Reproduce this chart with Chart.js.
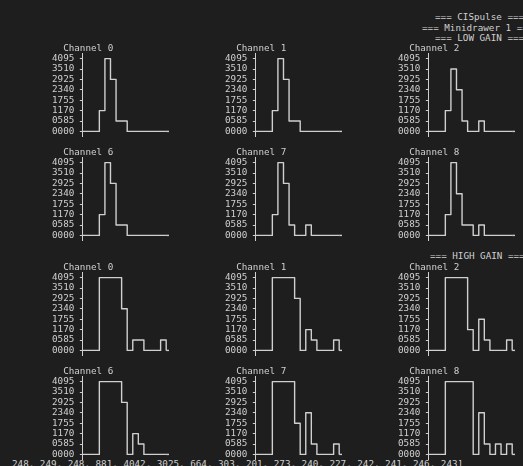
<!DOCTYPE html>
<html>
<head>
<meta charset="utf-8">
<script src="https://cdn.jsdelivr.net/npm/chart.js@4.4.0/dist/chart.umd.min.js"></script>
<style>
  html, body { margin: 0; padding: 0; background: #1e1e1e; }
  #screen {
    position: relative; width: 523px; height: 466px; overflow: hidden;
    background: #1e1e1e; color: #d0d0d0;
    font-family: 'DejaVu Sans Mono', monospace; font-size: 9.25px;
  }
  .txt { position: absolute; white-space: pre; line-height: 10.4px; height: 10.4px; }
  .panel { position: absolute; }
  .panel canvas { display: block; }
</style>
</head>
<body>
<div id="screen"></div>
<script>
// ---- pulse samples per channel (ADC counts, 16 samples each) ----
const sampleIdx = [0, 1, 2, 3, 4, 5, 6, 7, 8, 9, 10, 11, 12, 13, 14, 15];
const yTicks = [0, 585, 1170, 1755, 2340, 2925, 3510, 4095];

const lgCh0 = [0, 0, 0, 1170, 4095, 2925, 585, 585, 0, 0, 0, 0, 0, 0, 0, 0];
const lgCh1 = [0, 0, 0, 1170, 4095, 2925, 585, 585, 0, 0, 0, 0, 0, 0, 0, 0];
const lgCh2 = [0, 0, 0, 1170, 3510, 2340, 585, 0, 0, 585, 0, 0, 0, 0, 0, 0];
const lgCh6 = [0, 0, 0, 1170, 4095, 2925, 585, 585, 0, 0, 0, 0, 0, 0, 0, 0];
const lgCh7 = [0, 0, 0, 1170, 4095, 2925, 585, 0, 0, 585, 0, 0, 0, 0, 0, 0];
const lgCh8 = [0, 0, 0, 1170, 4095, 2340, 585, 585, 0, 585, 0, 0, 0, 0, 0, 0];

const hgCh0 = [0, 0, 0, 4095, 4095, 4095, 4095, 2340, 0, 585, 585, 0, 0, 0, 585, 0];
const hgCh1 = [0, 0, 0, 4095, 4095, 4095, 4095, 2925, 0, 1170, 585, 0, 0, 0, 585, 0];
const hgCh2 = [0, 0, 0, 4095, 4095, 4095, 4095, 1170, 0, 1755, 585, 0, 0, 0, 585, 0];
const hgCh6 = [0, 0, 0, 4095, 4095, 4095, 4095, 2925, 0, 1170, 585, 0, 0, 0, 0, 0];
const hgCh7 = [0, 0, 0, 4095, 4095, 4095, 4095, 1755, 0, 2340, 585, 0, 0, 0, 585, 0];
const hgCh8 = [0, 0, 0, 4095, 4095, 4095, 4095, 4095, 0, 2340, 585, 0, 585, 0, 585, 0];

const rawDump = '248, 249, 248, 881, 4042, 3025, 664, 303, 201, 273, 240, 227, 242, 241, 246, 243]';

// ---- terminal grid metrics ----
const CW = 5.57;          // character cell width
const LH = 10.4;          // line height
const FS = 9.25;          // font size
const TOP0 = 48.6;        // centre of the first "Channel" line
const INK = '#d0d0d0';
const MONO = "'DejaVu Sans Mono', monospace";
const X_END = 15.5;       // last cell ends half a cell past the final sample

const screen = document.getElementById('screen');

function textLine(str, left, lineIdx) {
  const d = document.createElement('div');
  d.className = 'txt';
  d.textContent = str;
  d.style.left = left + 'px';
  d.style.top = (TOP0 + lineIdx * LH - LH / 2) + 'px';
  screen.appendChild(d);
}

// header banners
textLine('=== CISpulse ===', 435, -3);
textLine('=== Minidrawer 1 ===', 422, -2);
textLine('=== LOW GAIN ===', 435, -1);
textLine('=== HIGH GAIN ===', 430, 20);
textLine(rawDump, 12, 40);

// one small ascii-style plot per channel
const panels = [
  { name: 'Channel 0', values: lgCh0, col: 0, line: 0 },
  { name: 'Channel 1', values: lgCh1, col: 1, line: 0 },
  { name: 'Channel 2', values: lgCh2, col: 2, line: 0 },
  { name: 'Channel 6', values: lgCh6, col: 0, line: 10 },
  { name: 'Channel 7', values: lgCh7, col: 1, line: 10 },
  { name: 'Channel 8', values: lgCh8, col: 2, line: 10 },
  { name: 'Channel 0', values: hgCh0, col: 0, line: 21 },
  { name: 'Channel 1', values: hgCh1, col: 1, line: 21 },
  { name: 'Channel 2', values: hgCh2, col: 2, line: 21 },
  { name: 'Channel 6', values: hgCh6, col: 0, line: 31 },
  { name: 'Channel 7', values: hgCh7, col: 1, line: 31 },
  { name: 'Channel 8', values: hgCh8, col: 2, line: 31 },
];

// the trace keeps its last level to the end of the final cell
const holdLastSample = {
  id: 'holdLastSample',
  afterDatasetsDraw(chart) {
    const ds = chart.data.datasets[0];
    const last = ds.data[ds.data.length - 1];
    const xs = chart.scales.x, ys = chart.scales.y;
    const ctx = chart.ctx;
    const y = ys.getPixelForValue(last.y);
    ctx.save();
    ctx.strokeStyle = ds.borderColor;
    ctx.lineWidth = ds.borderWidth;
    ctx.beginPath();
    ctx.moveTo(xs.getPixelForValue(last.x), y);
    ctx.lineTo(xs.getPixelForValue(X_END), y);
    ctx.stroke();
    ctx.restore();
  }
};

const AXIS_W = 5.5 * CW;           // label + gap + half axis cell
const AREA_W = X_END * CW;         // 16 samples drawn over 15.5 cells
const AREA_H = 8 * LH;             // 8 rows, half a row beyond each end
const TITLE_H = LH;
const PAD_R = 8;
const CANVAS_W = Math.ceil(AXIS_W + AREA_W + PAD_R);
const CANVAS_H = 106;
const PAD_B = CANVAS_H - TITLE_H - AREA_H;
const step = yTicks[1] - yTicks[0];

panels.forEach(p => {
  const box = document.createElement('div');
  box.className = 'panel';
  const cv = document.createElement('canvas');
  cv.width = CANVAS_W;
  cv.height = CANVAS_H;
  box.appendChild(cv);
  screen.appendChild(box);

  const chart = new Chart(cv, {
    type: 'line',
    data: {
      datasets: [{
        data: p.values.map((v, i) => ({ x: sampleIdx[i], y: v })),
        borderColor: INK,
        borderWidth: 1.4,
        stepped: 'before',     // hold each sample until the next one, then jump
        pointRadius: 0,
        fill: false,
        borderJoinStyle: 'round',
        borderCapStyle: 'butt'
      }]
    },
    plugins: [holdLastSample],
    options: {
      responsive: false,
      animation: false,
      devicePixelRatio: 1,
      layout: { padding: { left: 0, top: 0, right: CANVAS_W - AXIS_W - AREA_W, bottom: PAD_B } },
      plugins: {
        legend: { display: false },
        tooltip: { enabled: false },
        title: {
          display: true,
          text: '  ' + p.name,
          align: 'start',
          color: INK,
          padding: { top: 0, bottom: 0 },
          font: { family: MONO, size: FS, weight: 'normal', lineHeight: LH / FS }
        }
      },
      scales: {
        x: {
          type: 'linear',
          display: false,
          min: 0,
          max: X_END
        },
        y: {
          type: 'linear',
          min: yTicks[0] - step / 2,
          max: yTicks[yTicks.length - 1] + step / 2,
          afterBuildTicks: scale => { scale.ticks = yTicks.map(v => ({ value: v })); },
          afterFit: scale => { scale.width = AXIS_W; },
          border: { display: true, color: INK, width: 1 },
          grid: { display: true, drawOnChartArea: false, drawTicks: true, tickLength: CW / 2, color: INK, lineWidth: 1 },
          ticks: {
            color: INK,
            padding: CW,
            autoSkip: false,
            font: { family: MONO, size: FS, lineHeight: 1 },
            callback: v => String(v).padStart(4, '0')
          }
        }
      }
    }
  });

  // place the panel so its axis sits on the terminal grid
  const axisX = 83 + p.col * 31 * CW;
  const areaTop = TOP0 + (p.line + 1) * LH - LH / 2;
  box.style.left = (axisX - chart.chartArea.left) + 'px';
  box.style.top = (areaTop - chart.chartArea.top) + 'px';
});
</script>
</body>
</html>
